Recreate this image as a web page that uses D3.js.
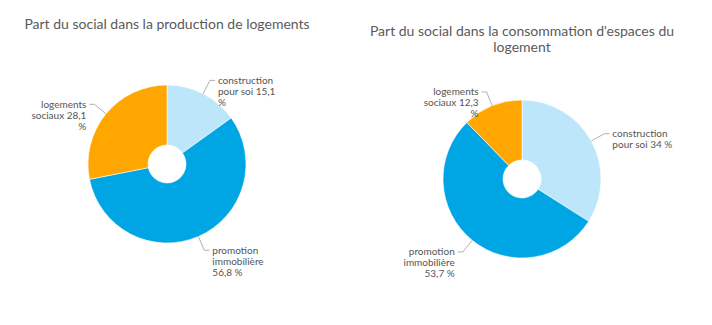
<!DOCTYPE html>
<html><head><meta charset="utf-8">
<script src="https://cdn.jsdelivr.net/npm/d3@7"></script>
<style>
html,body{margin:0;padding:0;background:#fff;}
svg{display:block;font-family:Lato,"Open Sans",sans-serif;}
</style></head>
<body><svg id="c" width="712" height="325"></svg>
<script>
const categories = ["construction pour soi", "promotion immobilière", "logements sociaux"];
const titles = ["Part du social dans la production de logements",
                "Part du social dans la consommation d'espaces du logement"];
const productionValues = [15.1, 56.8, 28.1];
const consommationValues = [34, 53.7, 12.3];
const colors = ["#BEE6FA", "#00A5E3", "#FFA600"];

const svg = d3.select("#c");
const fmt = v => String(v).replace(".", ",") + " %";
const color = d3.scaleOrdinal().domain(categories).range(colors);

function wrapText(textSel, words, maxW, lh) {
  let line = [];
  let ts = textSel.append("tspan").attr("x", 0).attr("dy", 0);
  words.forEach(w => {
    line.push(w);
    ts.text(line.join(" "));
    if (ts.node().getComputedTextLength() > maxW && line.length > 1) {
      line.pop();
      ts.text(line.join(" "));
      line = [w];
      ts = textSel.append("tspan").attr("x", 0).attr("dy", lh).text(w);
    }
  });
}

function wrapTitle(textSel, cx, y, words, maxW, lh) {
  let line = [];
  let ts = textSel.append("tspan").attr("x", cx).attr("y", y);
  let n = 0;
  words.forEach(w => {
    line.push(w);
    ts.text(line.join(" "));
    if (ts.node().getComputedTextLength() > maxW && line.length > 1) {
      line.pop();
      ts.text(line.join(" "));
      line = [w];
      n++;
      ts = textSel.append("tspan").attr("x", cx).attr("y", y + n * lh).text(w);
    }
  });
}

function drawPie(cx, cy, values, title, titleY) {
  const g = svg.append("g").attr("transform", `translate(${cx},${cy})`);
  const data = categories.map((c, i) => ({cat: c, value: values[i]}));
  const pie = d3.pie().sort(null).value(d => d.value);
  const R = 79, r0 = 19;
  const arc = d3.arc().innerRadius(r0).outerRadius(R);
  const arcs = pie(data);
  g.selectAll("path.s").data(arcs).join("path").attr("class", "s")
    .attr("d", arc).attr("fill", d => color(d.data.cat))
    .attr("stroke", "#fff").attr("stroke-width", 0.6);

  arcs.forEach(d => {
    const a = (d.startAngle + d.endAngle) / 2;
    const sx = Math.sin(a), sy = -Math.cos(a);
    const p0 = [R * sx, R * sy], p1 = [94 * sx, 94 * sy];
    const dir = sx >= 0 ? 1 : -1;
    const p2 = [p1[0] + dir * 5, p1[1]];
    g.append("polyline").attr("points", [p0, p1, p2].map(p => p.join(",")).join(" "))
      .attr("fill", "none").attr("stroke", "#9a9a9a").attr("stroke-width", 0.8);
    const t = g.append("text").attr("transform", `translate(${p2[0] + dir * 3},${p2[1] + 3.5})`)
      .attr("text-anchor", dir > 0 ? "start" : "end")
      .attr("font-size", 10).attr("fill", "#555");
    const words = (d.data.cat + " " + fmt(d.data.value)).split(" ");
    wrapText(t, words, 62, 11);
  });

  const tt = svg.append("text").attr("text-anchor", "middle")
    .attr("font-size", 14).attr("fill", "#5a5a5a");
  wrapTitle(tt, cx, titleY, title.split(" "), 320, 16);
}

drawPie(167, 164, productionValues, titles[0], 29);
drawPie(522, 179, consommationValues, titles[1], 36);
</script></body></html>
